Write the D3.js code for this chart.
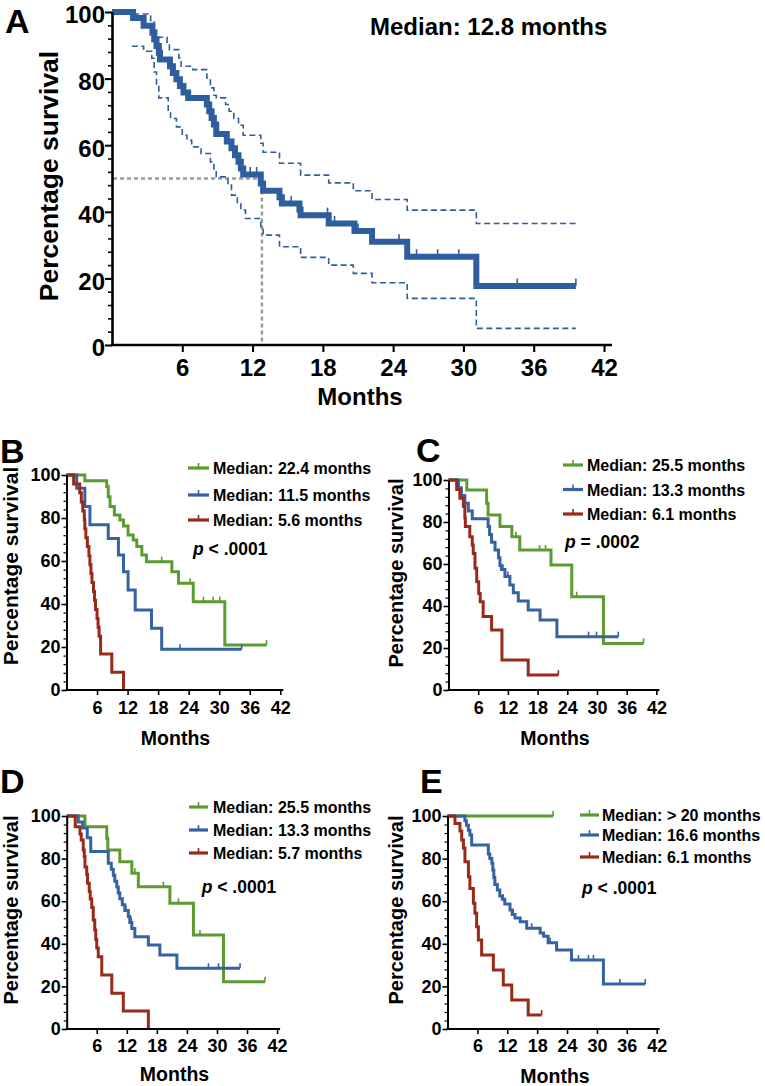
<!DOCTYPE html>
<html><head><meta charset="utf-8">
<script src="https://cdn.jsdelivr.net/npm/d3@7"></script>
<style>
body{margin:0;background:#fff}
svg{display:block;font-family:"Liberation Sans",Arial,Helvetica,sans-serif;font-weight:bold}
</style>
</head><body>
<svg id="chart" width="765" height="1086"></svg>
<script>
// ---------- DATA ----------
const xTicks = [6,12,18,24,30,36,42];
const yTicks = [0,20,40,60,80,100];
const yMinorTicks = [4,8,12,16,24,28,32,36,44,48,52,56,64,68,72,76,84,88,92,96];

// Panel A: overall survival with 95% CI
const aMain = [[0,100],[1.8,98.2],[2.7,95.9],[3.45,93.8],[3.6,91.8],[3.8,89.8],[4.0,87.8],[4.1,85.7],[4.95,83.7],[5.2,81.7],[5.5,79.8],[5.8,77.8],[6.1,75.8],[6.5,74.2],[8.1,72.2],[8.3,70.2],[8.5,68.2],[8.7,66.2],[8.9,63.4],[9.8,61.1],[10.2,59.1],[10.5,57.0],[10.8,55.0],[11.0,53.0],[11.2,51.2],[12.7,48.5],[12.9,46.3],[14.3,44.4],[14.5,42.5],[16.0,40.7],[16.1,39.0],[18.5,36.5],[20.7,34.2],[22.2,31.0],[25.2,26.5],[31.1,17.7],[39.6,17.7]];
const aMainCensor = [11.8,12.35,15.3,18.4,19.0,21.0,24.5,26.0,27.8,29.6,34.6,39.6];
const aUpper = [[1.8,99.4],[3.3,97.0],[3.6,94.5],[3.8,92.4],[4.7,90.5],[4.9,88.7],[5.7,86.2],[5.9,83.7],[6.9,82.7],[8.1,80.2],[8.4,77.2],[8.7,75.0],[8.9,74.2],[9.7,72.2],[10.0,70.2],[10.4,68.0],[10.8,66.0],[11.2,63.0],[12.7,60.6],[12.9,57.9],[14.3,54.6],[16.1,51.0],[18.5,48.7],[20.6,46.3],[22.2,43.7],[25.2,40.5],[31.1,36.5],[39.6,36.5]];
const aLower = [[1.7,89.7],[2.7,88.2],[3.4,86.1],[3.6,82.0],[3.8,78.0],[4.0,74.2],[4.8,70.5],[5.0,68.0],[5.5,65.5],[6.0,63.0],[6.4,61.5],[6.8,59.5],[7.6,57.5],[8.4,55.0],[8.7,52.5],[8.9,50.5],[9.9,48.0],[10.2,45.0],[10.7,42.5],[11.0,40.5],[11.4,38.0],[12.7,35.0],[12.9,33.0],[14.3,29.5],[16.1,26.3],[18.5,24.0],[20.6,21.5],[22.2,18.7],[25.2,14.0],[31.1,5.0],[39.6,5.0]];
const aMedianMonths = 12.8;
const aMedianText = "Median: 12.8 months";

// Panel B
const bGreen = [[0,100],[3.6,97.3],[7.9,94.6],[8.2,89.9],[8.55,85.3],[9.4,81.4],[10.5,79.1],[11.2,76.3],[12.1,72.1],[13.1,69.8],[13.8,66.7],[14.8,62.8],[15.7,59.7],[20.7,55.0],[22.0,49.6],[24.9,41.1],[31.1,20.9],[39.3,20.9]];
const bGreenCensor = [18.7,24.3,26.9,28.8,30.1,39.3];
const bBlue = [[0,100],[2.0,93.8],[3.6,85.3],[4.6,76.9],[8.2,70.5],[10.2,62.8],[11.2,55.0],[12.1,46.5],[13.5,37.2],[16.7,28.7],[18.7,19.0],[34.4,19.0]];
const bBlueCensor = [22.3,34.4];
const bRed = [[0,100],[1.4,95.8],[2.6,91.7],[2.9,87.5],[3.2,83.3],[3.5,79.2],[3.6,75.0],[3.8,70.8],[4.1,66.7],[4.4,62.5],[4.6,58.3],[4.8,54.2],[5.0,50.0],[5.3,45.8],[5.5,41.7],[5.7,37.5],[6.0,33.3],[6.2,29.2],[6.4,25.0],[6.7,16.7],[8.9,8.3],[11.2,0]];
const bRedCensor = [];
const bLegend = ["Median: 22.4 months","Median: 11.5 months","Median: 5.6 months"];
const bP = ["p", " < .0001"];

// Panel C
const cGreen = [[0,100],[3.7,95.2],[7.7,88.9],[8.0,83.3],[10.4,77.8],[12.8,73.0],[14.4,66.7],[20.7,59.5],[24.9,44.4],[31.3,22.2],[39.4,22.2]];
const cGreenCensor = [13.6,18.4,19.6,25.9,39.4];
const cBlue = [[0,100],[2.0,96.3],[2.6,92.6],[3.3,88.9],[4.0,85.2],[4.8,81.5],[8.0,77.8],[8.3,74.1],[8.7,70.4],[9.4,66.7],[10.1,63.0],[10.4,59.3],[10.7,57.4],[11.4,54.0],[12.4,50.0],[13.1,46.3],[14.1,42.4],[16.1,38.1],[18.5,33.3],[21.9,25.4],[34.3,25.4]];
const cBlueCensor = [11.0,12.0,28.3,29.9,34.3];
const cRed = [[0,100],[1.65,95.5],[2.3,91.3],[3.0,87.5],[3.3,82.0],[3.4,77.8],[4.3,73.0],[4.8,69.0],[5.0,65.0],[5.35,58.0],[5.7,51.5],[6.1,46.0],[6.4,42.0],[7.0,35.0],[8.7,28.6],[10.8,14.3],[16.1,7.1],[22.2,7.1]];
const cRedCensor = [22.2];
const cLegend = ["Median: 25.5 months","Median: 13.3 months","Median: 6.1 months"];
const cP = ["p", " = .0002"];

// Panel D
const dGreen = [[0,100],[3.65,94.9],[8.0,89.5],[8.2,84.0],[10.6,78.5],[13.0,73.1],[14.3,66.8],[20.6,59.0],[25.3,44.1],[31.3,22.2],[39.6,22.2]];
const dGreenCensor = [13.6,19.3,22.3,26.6,39.6];
const dBlue = [[0,100],[2.3,97.2],[3.2,94.4],[4.1,89.8],[4.8,83.3],[8.3,77.8],[8.9,75.0],[9.3,72.2],[9.6,69.4],[10.0,66.7],[10.3,63.9],[10.6,61.1],[11.1,58.3],[11.6,55.6],[12.3,52.8],[12.6,50.0],[13.0,47.2],[13.6,43.3],[16.3,39.4],[18.6,34.7],[22.0,28.5],[34.6,28.5]];
const dBlueCensor = [11.8,12.9,28.3,30.3,34.6];
const dRed = [[0,100],[1.7,95.0],[2.65,91.5],[2.9,88.7],[3.3,84.0],[3.5,81.0],[3.65,76.0],[4.0,72.5],[4.15,68.4],[4.5,64.5],[4.7,61.0],[5.0,57.0],[5.3,51.2],[5.6,46.5],[5.8,42.0],[6.0,38.0],[6.3,33.9],[7.0,25.4],[9.0,16.8],[11.3,8.4],[16.3,0]];
const dRedCensor = [];
const dLegend = ["Median: 25.5 months","Median: 13.3 months","Median: 5.7 months"];
const dP = ["p", " < .0001"];

// Panel E
const eGreen = [[0,100],[21.2,100]];
const eGreenCensor = [21.2];
const eBlue = [[0,100],[3.5,97.8],[3.8,95.6],[4.2,93.3],[4.5,91.1],[4.85,86.4],[8.2,82.2],[8.5,80.0],[8.9,77.8],[9.1,74.6],[9.3,71.1],[9.5,67.8],[10.0,65.3],[10.5,62.5],[11.0,60.9],[11.5,58.7],[12.55,55.9],[13.0,53.7],[13.55,52.1],[14.6,50.4],[15.9,47.3],[18.6,45.1],[19.3,43.5],[20.2,40.5],[21.9,37.1],[24.9,32.4],[31.3,21.1],[39.7,21.1]];
const eBlueCensor = [11.2,13.2,16.9,20.6,26.3,28.3,29.3,34.6,39.7];
const eRed = [[0,100],[1.5,96.5],[2.5,93.0],[2.85,88.7],[3.2,85.0],[3.5,78.5],[4.2,71.5],[4.5,66.0],[5.2,59.0],[5.5,54.3],[5.85,48.0],[6.2,41.8],[6.85,34.7],[9.2,27.7],[11.2,20.7],[12.9,13.6],[16.2,6.6],[18.9,6.6]];
const eRedCensor = [18.9];
const eLegend = ["Median: > 20 months","Median: 16.6 months","Median: 6.1 months"];
const eP = ["p", " < .0001"];

const yTitle = "Percentage survival";
const xTitle = "Months";

// ---------- STYLE ----------
const GREEN = "#5c9b30", BLUE = "#3462a2", RED = "#992a1a", MAINBLUE = "#2f5e9e";

const svg = d3.select("#chart");

function survAt(curve, t){
  let s = curve[0][1];
  for (const p of curve){ if (p[0] <= t) s = p[1]; }
  return s;
}

function drawAxes(g, x, y, o){
  const ya = g.append("g").attr("transform", `translate(${x(0)},0)`)
    .call(d3.axisLeft(y).tickValues(yTicks).tickSize(o.majY).tickSizeOuter(0).tickPadding(o.padY));
  ya.select(".domain").attr("stroke-width", o.aw).attr("stroke","#000");
  ya.selectAll(".tick line").attr("stroke-width", o.aw*0.8);
  ya.selectAll("text").attr("font-size", o.fsTick).attr("font-weight","bold").attr("fill","#000")
    .attr("font-family","Liberation Sans, Arial, sans-serif").attr("dy", o.dyY || "0.32em");
  const ym = g.append("g").attr("transform", `translate(${x(0)},0)`)
    .call(d3.axisLeft(y).tickValues(yMinorTicks).tickSize(o.minY).tickFormat(""));
  ym.select(".domain").remove();
  ym.selectAll(".tick line").attr("stroke-width", o.aw*0.6);
  const xa = g.append("g").attr("transform", `translate(0,${y(0)})`)
    .call(d3.axisBottom(x).tickValues(xTicks).tickSize(o.majX).tickSizeOuter(0).tickPadding(o.padX));
  xa.select(".domain").remove();
  xa.selectAll(".tick line").attr("stroke-width", o.aw*0.8);
  xa.selectAll("text").attr("font-size", o.fsTick).attr("font-weight","bold").attr("fill","#000").attr("font-family","Liberation Sans, Arial, sans-serif");
  g.append("line").attr("x1", x(0)-o.aw/2).attr("x2", x(42)+o.ext)
    .attr("y1", y(0)).attr("y2", y(0)).attr("stroke","#000").attr("stroke-width", o.aw);
}

function drawCurve(g, x, y, curve, censor, color, w, tickH, dash){
  const line = d3.line().x(d=>x(d[0])).y(d=>y(d[1])).curve(d3.curveStepAfter);
  const p = g.append("path").datum(curve).attr("d", line).attr("fill","none")
    .attr("stroke", color).attr("stroke-width", w).attr("stroke-linejoin","miter").attr("stroke-linecap","butt");
  if (dash) p.attr("stroke-dasharray", dash);
  g.selectAll(null).data(censor).enter().append("line")
    .attr("x1", d=>x(d)).attr("x2", d=>x(d))
    .attr("y1", d=>y(survAt(curve,d))).attr("y2", d=>y(survAt(curve,d)) - tickH)
    .attr("stroke", color).attr("stroke-width", 1.6);
}

function drawTitles(g, o){
  g.append("text").attr("x", o.letter[0]).attr("y", o.letter[1]).attr("font-size", o.letter[2])
    .attr("font-weight","bold").text(o.id);
  g.append("text").attr("transform", `translate(${o.yt[0]},${o.yt[1]}) rotate(-90)`)
    .attr("text-anchor","middle").attr("font-size", o.yt[2]).text(yTitle);
  g.append("text").attr("x", o.xt[0]).attr("y", o.xt[1]).attr("text-anchor","middle")
    .attr("font-size", o.xt[2]).text(xTitle);
}

// ---------- PANEL A ----------
(function(){
  const o = {id:"A", aw:2.6, majY:7, minY:4, padY:0, majX:7, padX:7, ext:8, fsTick:24, dyY:"0.45em",
    letter:[5,33,34], yt:[58,176,26.5], xt:[360,405,24]};
  const g = svg.append("g");
  const x = d3.scaleLinear().domain([0,42]).range([112,604]);
  const y = d3.scaleLinear().domain([0,100]).range([345,12]);
  g.append("path").attr("d", d3.line()([[x(0)+1,y(50)],[x(aMedianMonths),y(50)],[x(aMedianMonths),y(0)]]))
    .attr("fill","none").attr("stroke","#9a9a9a").attr("stroke-width",2.4).attr("stroke-dasharray","4,3");
  drawCurve(g, x, y, aUpper, [], MAINBLUE, 1.6, 0, "6,3.5");
  drawCurve(g, x, y, aLower, [], MAINBLUE, 1.6, 0, "6,3.5");
  drawCurve(g, x, y, aMain, aMainCensor, MAINBLUE, 6, 7.5, null);
  drawAxes(g, x, y, o);
  drawTitles(g, o);
  g.append("text").attr("x",370).attr("y",35).attr("font-size",24).text(aMedianText);
})();

// ---------- PANELS B-E ----------
function smallPanel(o, curves, legend, pv){
  const g = svg.append("g");
  const x = d3.scaleLinear().domain([0,42]).range(o.xr);
  const y = d3.scaleLinear().domain([0,100]).range(o.yr);
  const colors = [GREEN, BLUE, RED];
  curves.forEach((c,i)=> drawCurve(g, x, y, c[0], c[1], colors[i], 3, 5, null));
  drawAxes(g, x, y, o);
  drawTitles(g, o);
  legend.forEach((t,i)=>{
    const by = o.lg.rows[i];
    const cy = by - 6;
    g.append("line").attr("x1", o.lg.s0).attr("x2", o.lg.s1).attr("y1", cy).attr("y2", cy)
      .attr("stroke", colors[i]).attr("stroke-width", 3.2);
    const mx = (o.lg.s0 + o.lg.s1)/2;
    g.append("line").attr("x1", mx).attr("x2", mx).attr("y1", cy-5).attr("y2", cy+1)
      .attr("stroke", colors[i]).attr("stroke-width", 1.6);
    g.append("text").attr("x", o.lg.tx).attr("y", by).attr("font-size", 16).text(t);
  });
  const pt = g.append("text").attr("x", o.p[0]).attr("y", o.p[1]).attr("font-size", 17.5);
  pt.append("tspan").attr("font-style","italic").text(pv[0]);
  pt.append("tspan").text(pv[1]);
}

const smallCommon = {aw:2, majY:5, minY:3, padY:1, majX:5, padX:6.5, ext:3, fsTick:18};

smallPanel(Object.assign({}, smallCommon, {id:"B", xr:[66.5,280.3], yr:[690,475],
  letter:[0,463,34], yt:[18,566,21], xt:[175.5,745,19.5],
  lg:{rows:[474,501,526], s0:188, s1:209, tx:213}, p:[193,555]}),
  [[bGreen,bGreenCensor],[bBlue,bBlueCensor],[bRed,bRedCensor]], bLegend, bP);

smallPanel(Object.assign({}, smallCommon, {id:"C", xr:[448.5,656.4], yr:[690,480],
  letter:[416,462,34], yt:[403,573,20], xt:[555,745,19.5],
  lg:{rows:[471,495.5,520], s0:563, s1:583, tx:587}, p:[565,548]}),
  [[cGreen,cGreenCensor],[cBlue,cBlueCensor],[cRed,cRedCensor]], cLegend, cP);

smallPanel(Object.assign({}, smallCommon, {id:"D", xr:[66.7,277.1], yr:[1029,816], padX:5.5,
  letter:[0,793,34], yt:[18,910,20], xt:[174.5,1081,19.5],
  lg:{rows:[813,836,859], s0:189, s1:208, tx:213}, p:[201.7,893]}),
  [[dGreen,dGreenCensor],[dBlue,dBlueCensor],[dRed,dRedCensor]], dLegend, dP);

smallPanel(Object.assign({}, smallCommon, {id:"E", xr:[447.5,656.7], yr:[1029,816], padX:5.5,
  letter:[420,793,34], yt:[403,910,20], xt:[555,1083,19.5],
  lg:{rows:[821,841,863], s0:580, s1:599, tx:602}, p:[582,894]}),
  [[eGreen,eGreenCensor],[eBlue,eBlueCensor],[eRed,eRedCensor]], eLegend, eP);
</script>
</body></html>
